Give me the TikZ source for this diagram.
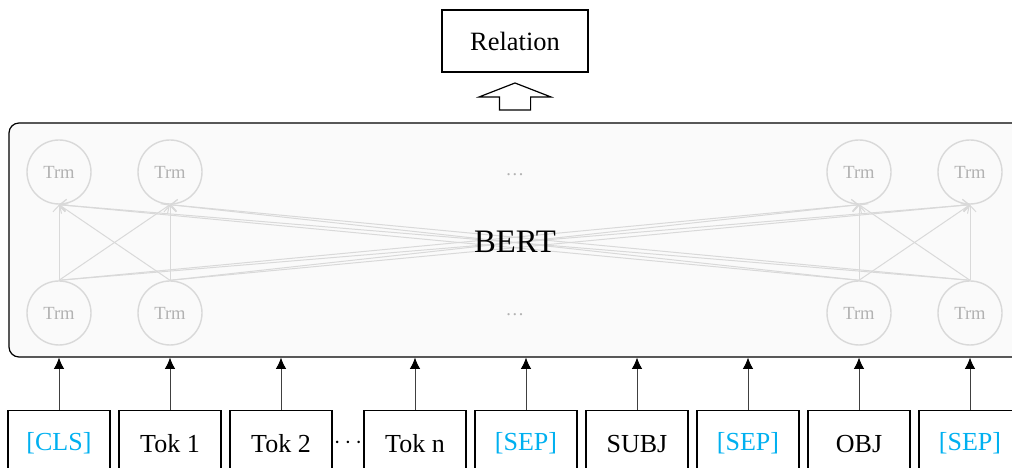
\documentclass[tikz,border=0pt]{standalone}
\usepackage{fontspec}
\setmainfont{Liberation Serif}
\usetikzlibrary{arrows.meta,calc}
\definecolor{sepblue}{RGB}{0,176,240}
\tikzset{
	tokbox/.style={draw, line width=0.3mm, minimum width=2.55cm, minimum height=1.65cm, anchor=north, inner sep=0pt, font=\fontsize{18.5}{20}\selectfont},
	trm/.style={circle, draw=black!15, line width=0.35mm, minimum size=1.6cm, inner sep=0pt, text=black!30, font=\fontsize{13.2}{14}\selectfont},
	attn/.style={draw=black!15, line width=0.25mm, -{Straight Barb[length=1.6mm,width=3mm]}},
	feed/.style={draw=black!75, line width=0.25mm, -{Latex[length=2.8mm,width=2.6mm,black]}}
}

\begin{document}
\begin{tikzpicture}
			%%%%% START %%%%%
			\useasboundingbox (0, 0) rectangle (25.3, 11.7);
			
			\node[draw, line width=0.3mm, fill=black!2, rounded corners=0.25cm, minimum width=25.325cm, minimum height=5.85cm] (bert) at (12.8875, 5.7) {};
			
			\node[trm] (t1) at (1.475, 7.4) {Trm};
			\node[trm] (t2) at (4.25, 7.4) {Trm};
			\node[trm] (t3) at (21.475, 7.4) {Trm};
			\node[trm] (t4) at (24.25, 7.4) {Trm};
			\node[trm] (b1) at (1.475, 3.875) {Trm};
			\node[trm] (b2) at (4.25, 3.875) {Trm};
			\node[trm] (b3) at (21.475, 3.875) {Trm};
			\node[trm] (b4) at (24.25, 3.875) {Trm};
			
			\node[text=black!30, font=\fontsize{13.2}{14}\selectfont] (tdots) at (12.875, 7.325) {\dots};
			\node[text=black!30, font=\fontsize{13.2}{14}\selectfont] (bdots) at (12.875, 3.825) {\dots};
			
			\foreach \i in {1,...,4}
				\foreach \j in {1,...,4}
					\draw[attn] (b\i.north) -- (t\j.south);
			
			\node[font=\fontsize{23.3}{26}\selectfont] (bertlabel) at (12.875, 5.65) {BERT};
			
			% input tokens
			\node[tokbox, text=sepblue] (cls) at (1.475, 1.45) {[CLS]};
			\node[tokbox] (tok1) at (4.25, 1.45) {Tok 1};
			\node[tokbox] (tok2) at (7.025, 1.45) {Tok 2};
			\node[font=\fontsize{18.5}{20}\selectfont] (tokdots) at (8.7, 0.62) {$\cdots$};
			\node[tokbox] (tokn) at (10.375, 1.45) {Tok n};
			\node[tokbox, text=sepblue] (sep1) at (13.15, 1.45) {[SEP]};
			\node[tokbox] (subj) at (15.925, 1.45) {SUBJ};
			\node[tokbox, text=sepblue] (sep2) at (18.7, 1.45) {[SEP]};
			\node[tokbox] (obj) at (21.475, 1.45) {OBJ};
			\node[tokbox, text=sepblue] (sep3) at (24.25, 1.45) {[SEP]};
			
			\foreach \t in {cls,tok1,tok2,tokn,sep1,subj,sep2,obj,sep3}
				\draw[feed] (\t.north) -- (\t.north |- bert.south);
			
			% output
			\node[draw, line width=0.3mm, minimum width=3.65cm, minimum height=1.55cm, font=\fontsize{18.8}{20}\selectfont] (rel) at (12.875, 10.675) {Relation};
			\coordinate (up) at (12.875, 8.95);
			\draw[line width=0.3mm] ($(up)+(-0.39, 0)$) -- ($(up)+(-0.39, 0.325)$) -- ($(up)+(-0.9, 0.325)$) -- ($(up)+(0, 0.675)$) -- ($(up)+(0.9, 0.325)$) -- ($(up)+(0.39, 0.325)$) -- ($(up)+(0.39, 0)$) -- cycle;
			
			%%%%% END %%%%%
\end{tikzpicture}
\end{document}
